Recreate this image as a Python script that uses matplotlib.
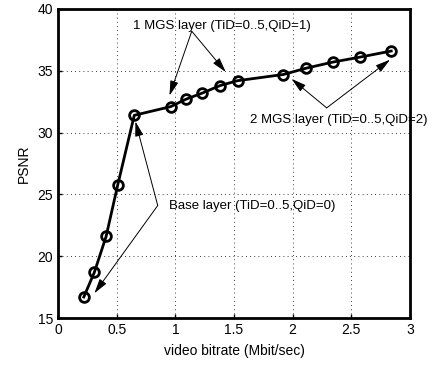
import numpy as np
import matplotlib.pyplot as plt

# observation: bitrate (Mbit/sec) and PSNR
rate = np.array([0.22, 0.31, 0.41, 0.51, 0.65, 0.96, 1.09, 1.23, 1.38, 1.53,
                 1.92, 2.11, 2.34, 2.57, 2.84])
psnr = np.array([16.7, 18.7, 21.6, 25.8, 31.4, 32.1, 32.7, 33.2, 33.8, 34.2,
                 34.7, 35.2, 35.7, 36.1, 36.6])

xticks = [0, 0.5, 1, 1.5, 2, 2.5, 3]
xticklabels = ['0', '0.5', '1', '1.5', '2', '2.5', '3']
yticks = [15, 20, 25, 30, 35, 40]

plt.rcParams['font.family'] = ['Liberation Sans', 'DejaVu Sans']

fig = plt.figure(figsize=(4.33, 3.65), dpi=100)
ax = fig.add_axes([58 / 433, 1 - 318 / 365, (410 - 58) / 433, (318 - 9) / 365])

ax.plot(rate, psnr, color='k', lw=2, marker='o', markersize=7,
        markerfacecolor='none', markeredgewidth=2)

ax.set_xlim(0, 3)
ax.set_ylim(15, 40)
ax.set_xticks(xticks)
ax.set_xticklabels(xticklabels)
ax.set_yticks(yticks)
ax.grid(True, linestyle=(0, (1, 4)), color='k', lw=0.6)
ax.tick_params(direction='in', length=3, labelsize=10, width=1)
for s in ax.spines.values():
    s.set_linewidth(2)

ax.set_xlabel('video bitrate (Mbit/sec)', fontsize=10, labelpad=5)
ax.set_ylabel('PSNR', fontsize=10, labelpad=5)

# annotations
arrow = dict(arrowstyle='-|>,head_length=0.9,head_width=0.25', color='k',
             lw=0.7, shrinkA=0, shrinkB=0)

ax.text(0.64, 38.6, '1 MGS layer (TiD=0..5,QiD=1)', fontsize=9.5, va='center')
for tip in [(0.95, 33.0), (1.43, 34.9)]:
    ax.annotate('', xy=tip, xytext=(1.14, 38.2), arrowprops=arrow)

ax.text(1.64, 31.0, '2 MGS layer (TiD=0..5,QiD=2)', fontsize=9.5, va='center')
for tip in [(1.99, 34.35), (2.83, 35.9)]:
    ax.annotate('', xy=tip, xytext=(2.29, 32.0), arrowprops=arrow)

ax.text(0.95, 24.1, 'Base layer (TiD=0..5,QiD=0)', fontsize=9.5, va='center')
for tip in [(0.66, 30.9), (0.31, 17.0)]:
    ax.annotate('', xy=tip, xytext=(0.85, 24.1), arrowprops=arrow)

fig.savefig('out.png', dpi=100)
